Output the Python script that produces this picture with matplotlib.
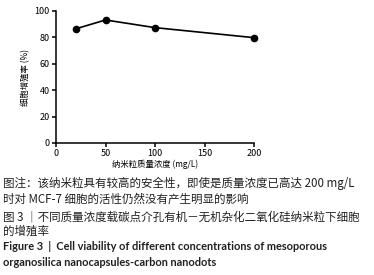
import matplotlib
matplotlib.use('Agg')
from matplotlib import pyplot as plt

plt.rcParams['font.family'] = ['Noto Sans CJK SC', 'DejaVu Sans']

# concentration (mg/L) and cell viability (%)
conc = [20, 50, 100, 200]
viability = [86.5, 93.2, 87.4, 79.8]
x_ticks = [0, 50, 100, 150, 200]
y_ticks = [0, 20, 40, 60, 80, 100]

caption_cn = [
    '图注：该纳米粒具有较高的安全性，即使是质量浓度已高达 200 mg/L',
    '时对 MCF-7 细胞的活性仍然没有产生明显的影响',
    '图 3 ｜不同质量浓度载碳点介孔有机－无机杂化二氧化硅纳米粒下细胞',
    '的增殖率',
]
caption_en = [
    'Figure 3  |  Cell viability of different concentrations of mesoporous',
    'organosilica nanocapsules-carbon nanodots',
]
cn_y = [183, 199, 217, 231]
en_y = [247, 262]

W, H = 374, 275
fig = plt.figure(figsize=(W / 100, H / 100), dpi=100)
ax = fig.add_axes([56 / W, 1 - 143 / H, 198 / W, 132 / H])

ax.plot(conc, viability, color='black', lw=1.2, marker='o', ms=4.5, clip_on=False)
ax.set_xlim(0, 200)
ax.set_ylim(0, 100)
ax.set_xticks(x_ticks)
ax.set_yticks(y_ticks)
ax.spines['top'].set_visible(False)
ax.spines['right'].set_visible(False)
for s in ['left', 'bottom']:
    ax.spines[s].set_linewidth(1.1)
ax.tick_params(labelsize=6.5, width=1.1, length=3, pad=1.5)
ax.set_xlabel('纳米粒质量浓度 (mg/L)', fontsize=6, labelpad=1)
ax.set_ylabel('细胞增殖率 (%)', fontsize=6, labelpad=3)

for txt, yy in zip(caption_cn, cn_y):
    fig.text(3 / W, 1 - yy / H, txt, fontsize=8.3,
             va='center', ha='left', color='#231f20')
for txt, yy in zip(caption_en, en_y):
    fig.text(3 / W, 1 - yy / H, txt, fontsize=7.9, fontweight='bold',
             family=['Lato', 'DejaVu Sans'], va='center', ha='left', color='#231f20')

plt.savefig('out.png', dpi=100)
plt.close()
